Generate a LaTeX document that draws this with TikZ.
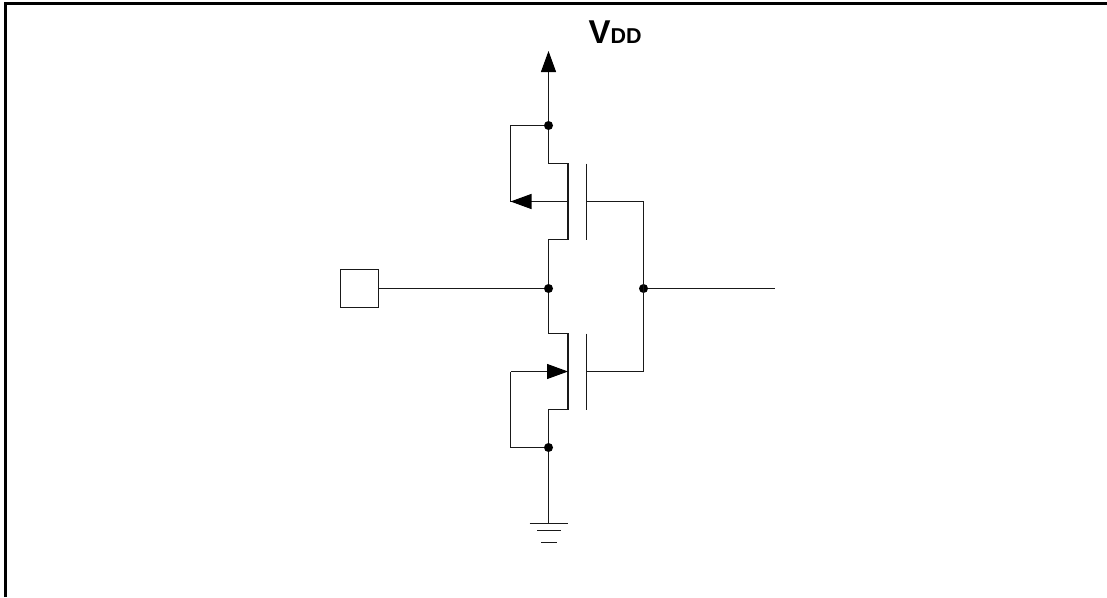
\documentclass[tikz,border=0pt]{standalone}
\usepackage{fontspec}
\setmainfont{Liberation Sans}
\usetikzlibrary{arrows.meta}

\begin{document}
\begin{tikzpicture}[x = 1pt, y = -1pt, wire/.style = {line width = 1.1pt, black!90}, pin/.style = {draw, line width = 1.1pt, black!90, fill = white, minimum size = 38pt, inner sep = 0pt}, junction/.style = {circle, fill = black, minimum size = 9pt, inner sep = 0pt}, tip/.style = {-{Triangle[length = 21pt, width = 15pt, color = black, fill = black]}}]
      \useasboundingbox (0,0) rectangle (1107,597);
      % frame
      \coordinate (f-bl) at (5.5,597);
      \coordinate (f-tl) at (5.5,3.5);
      \coordinate (f-tr) at (1107,3.5);
      \draw[line width = 3.4pt, miter limit = 10] (f-bl) -- (f-tl) -- (f-tr);
      % supply and ground
      \node[anchor = base west, inner sep = 0pt] (vdd) at (588.5,43.5) {\bfseries\fontsize{33}{33}\selectfont V\fontsize{21.5}{21.5}\selectfont DD};
      \coordinate (top) at (548.5,51);
      \coordinate (gnd) at (548.5,523.5);
      \coordinate (g1-l) at (529.5,523.5);
      \coordinate (g1-r) at (567.5,523.5);
      \coordinate (g2-l) at (537,530.5);
      \coordinate (g2-r) at (560.5,530.5);
      \coordinate (g3-l) at (541,542.5);
      \coordinate (g3-r) at (556.5,542.5);
      % junctions
      \node[junction] (j-p) at (548.5,125.5) {};
      \node[junction] (j-in) at (548.5,288.5) {};
      \node[junction] (j-n) at (548.5,447.5) {};
      \node[junction] (j-out) at (643.5,288.5) {};
      \node[pin] (in) at (359.5,288.5) {};
      \coordinate (out) at (775,288.5);
      % upper transistor
      \coordinate (p-s) at (548.5,163.5);
      \coordinate (p-c1) at (568,163.5);
      \coordinate (p-c2) at (568,239.5);
      \coordinate (p-d) at (548.5,239.5);
      \coordinate (p-m) at (568,201.5);
      \coordinate (p-b) at (510.5,201.5);
      \coordinate (p-t) at (510.5,125.5);
      \coordinate (p-g1) at (586.5,163.5);
      \coordinate (p-g2) at (586.5,239.5);
      \coordinate (p-g) at (586.5,201.5);
      \coordinate (p-o) at (643.5,201.5);
      % lower transistor
      \coordinate (n-d) at (548.5,333.5);
      \coordinate (n-c1) at (568,333.5);
      \coordinate (n-c2) at (568,409.5);
      \coordinate (n-s) at (548.5,409.5);
      \coordinate (n-m) at (568,371.5);
      \coordinate (n-b) at (510.5,371.5);
      \coordinate (n-t) at (510.5,447.5);
      \coordinate (n-g1) at (586.5,333.5);
      \coordinate (n-g2) at (586.5,409.5);
      \coordinate (n-g) at (586.5,371.5);
      \coordinate (n-o) at (643.5,371.5);
      \draw[wire] (j-in) -- (p-d) -- (p-c2) -- (p-c1) -- (p-s) -- (j-p);
      \draw[wire] (j-in) -- (n-d) -- (n-c1) -- (n-c2) -- (n-s) -- (j-n) -- (gnd);
      \draw[wire] (j-p) -- (p-t) -- (p-b);
      \draw[wire] (j-n) -- (n-t) -- (n-b);
      \draw[wire] (p-g) -- (p-o) -- (n-o) -- (n-g);
      \path[wire] (in) edge (j-in)
                  (j-out) edge (out)
                  (p-g1) edge (p-g2)
                  (n-g1) edge (n-g2)
                  (g1-l) edge (g1-r)
                  (g2-l) edge (g2-r)
                  (g3-l) edge (g3-r);
      \path[wire, tip] (j-p) edge (top)
                       (p-m) edge (p-b)
                       (n-b) edge (n-m);
    \end{tikzpicture}
\end{document}
